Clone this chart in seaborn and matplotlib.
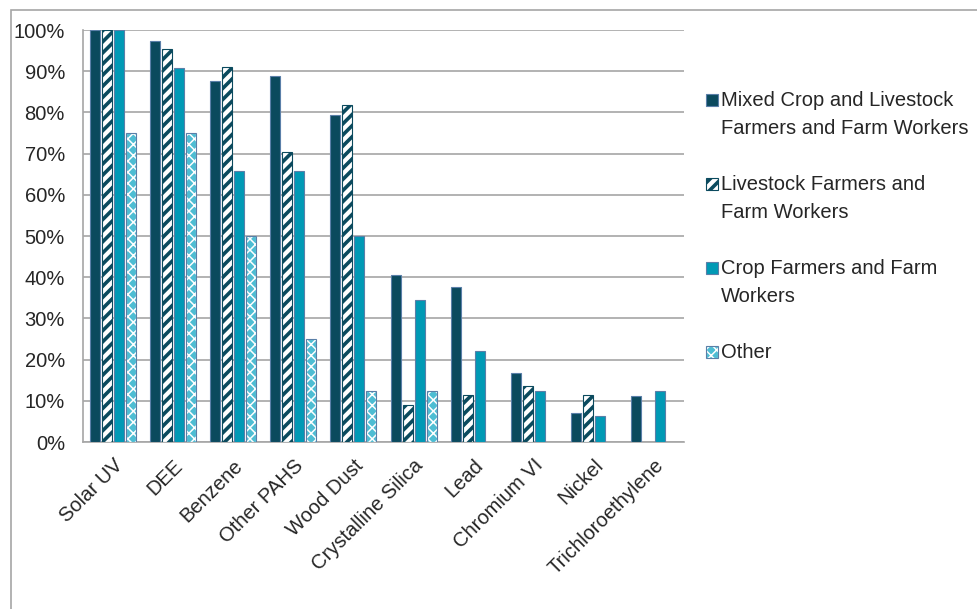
import numpy as np
import pandas as pd
import matplotlib
matplotlib.use("Agg")
import matplotlib.pyplot as plt
import seaborn as sns
from matplotlib.patches import Rectangle
from matplotlib.ticker import PercentFormatter

# --- data (percent) ---
agents = ["Solar UV", "DEE", "Benzene", "Other PAHS", "Wood Dust",
          "Crystalline Silica", "Lead", "Chromium VI", "Nickel", "Trichloroethylene"]
groups = ["Mixed Crop and Livestock\nFarmers and Farm Workers",
          "Livestock Farmers and\nFarm Workers",
          "Crop Farmers and Farm\nWorkers",
          "Other"]
mixed = [100, 97.4, 87.6, 88.9, 79.3, 40.5, 37.6, 16.7, 7.0, 11.2]
livestock = [100, 95.5, 90.9, 70.5, 81.9, 9.1, 11.5, 13.7, 11.5, 0]
crop = [100, 90.7, 65.8, 65.8, 50.0, 34.5, 22.0, 12.5, 6.4, 12.5]
other = [75, 75, 50, 25, 12.5, 12.5, 0, 0, 0, 0]

# --- styling ---
DARK = "#0b4a5e"
TEAL = "#0099b5"
SPECKLE = "#4dbdd3"
EDGE = "#5a7fa8"
GRID = "#a6a6a6"

rows = []
for g, vals in zip(groups, [mixed, livestock, crop, other]):
    for a, v in zip(agents, vals):
        rows.append({"agent": a, "group": g, "value": v if v > 0 else np.nan})
df = pd.DataFrame(rows)

sns.set_style("white")
plt.rcParams["font.family"] = ["Liberation Sans", "DejaVu Sans"]
plt.rcParams["hatch.linewidth"] = 2.6

fig = plt.figure(figsize=(9.78, 6.09), dpi=100)
ax = fig.add_axes([83 / 978, 1 - 442 / 609, (684 - 83) / 978, (442 - 30) / 609])

sns.barplot(data=df, x="agent", y="value", hue="group", order=agents,
            hue_order=groups, palette=[DARK, "white", TEAL, SPECKLE],
            width=0.8, gap=0.17, edgecolor=EDGE, linewidth=0.8,
            legend=False, ax=ax, zorder=3)

# hatch colour follows the edge colour, so the "Other" bars get a white hatch
# and a separate outline on top
styles = [
    dict(facecolor=DARK, edgecolor=EDGE, hatch=None, hlw=None),
    dict(facecolor="white", edgecolor=DARK, hatch="///", hlw=2.6),
    dict(facecolor=TEAL, edgecolor=EDGE, hatch=None, hlw=None),
    dict(facecolor=SPECKLE, edgecolor="white", hatch="xxx", hlw=1.1),
]
for cont, st in zip(ax.containers, styles):
    for bar in cont:
        bar.set_facecolor(st["facecolor"])
        bar.set_edgecolor(st["edgecolor"])
        if st["hatch"]:
            bar.set_hatch(st["hatch"])
            if hasattr(bar, "set_hatch_linewidth"):
                bar.set_hatch_linewidth(st["hlw"])
        if st["edgecolor"] == "white":
            ax.add_patch(Rectangle(bar.get_xy(), bar.get_width(), bar.get_height(),
                                   fill=False, edgecolor=EDGE, linewidth=0.8, zorder=4))

ax.set_ylim(0, 100)
ax.set_xlim(-0.5, len(agents) - 0.5)
ax.set_yticks(np.arange(0, 101, 10))
ax.yaxis.set_major_formatter(PercentFormatter(decimals=0))
ax.yaxis.grid(True, color=GRID, linewidth=1.2, zorder=0)
ax.set_axisbelow(True)
ax.set_xlabel("")
ax.set_ylabel("")

for side in ["top", "right"]:
    ax.spines[side].set_visible(False)
for side in ["left", "bottom"]:
    ax.spines[side].set_color(GRID)
    ax.spines[side].set_linewidth(1.2)

# tick marks between categories on x
ax.set_xticks(np.arange(len(agents)))
ax.set_xticklabels(agents, rotation=45, ha="right", rotation_mode="anchor", fontsize=14.5)
ax.tick_params(axis="x", length=0, pad=10)
ax.set_xticks(np.arange(-0.5, len(agents)), minor=True)
ax.tick_params(axis="x", which="minor", length=6, color=GRID, width=1.2)
ax.tick_params(axis="y", length=6, color=GRID, width=1.2, labelsize=14.5, pad=7)

# legend drawn by hand so the key sits on the first line of each label
line_px = 28
y_px = 100
for st, label in zip(styles, groups):
    key = Rectangle((706 / 978, 1 - (y_px + 6) / 609), 12 / 978, 12 / 609,
                    transform=fig.transFigure, facecolor=st["facecolor"],
                    edgecolor=st["edgecolor"] if st["hatch"] else EDGE,
                    hatch=st["hatch"], linewidth=0.8)
    if st["hatch"] and hasattr(key, "set_hatch_linewidth"):
        key.set_hatch_linewidth(st["hlw"])
    fig.patches.append(key)
    if st["edgecolor"] == "white":
        fig.patches.append(Rectangle((706 / 978, 1 - (y_px + 6) / 609), 12 / 978, 12 / 609,
                                     transform=fig.transFigure, fill=False,
                                     edgecolor=EDGE, linewidth=0.8))
    for line in label.split("\n"):
        fig.text(721 / 978, 1 - y_px / 609, line, fontsize=14.5, va="center", ha="left")
        y_px += line_px
    y_px += line_px

# chart frame (only left and top edges fall inside the picture)
fig.patches.append(Rectangle((11 / 978, -0.05), 1.1, 1.05 - 10 / 609,
                             transform=fig.transFigure, fill=False,
                             edgecolor="#a6a6a6", linewidth=1.2))

fig.savefig("out.png", dpi=100)
